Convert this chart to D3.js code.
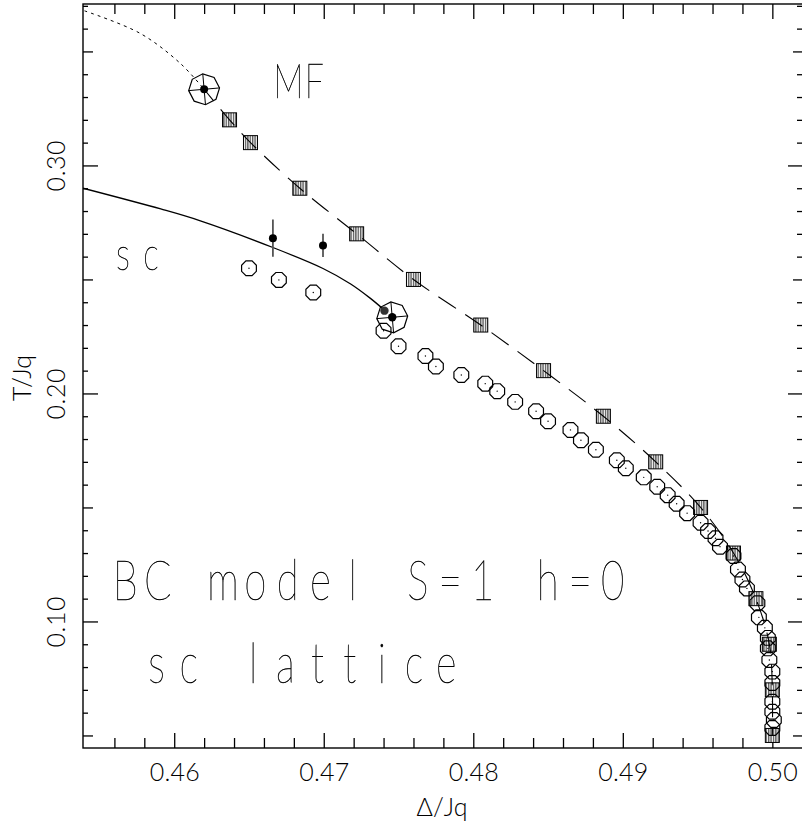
<!DOCTYPE html>
<html>
<head>
<meta charset="utf-8">
<script src="https://cdn.jsdelivr.net/npm/d3@7"></script>
<style>
  body { margin: 0; background: #fff; }
  svg { display: block; }
  text { font-family: Lato, "DejaVu Sans", sans-serif; fill: #000; font-variant-ligatures: none; }
</style>
</head>
<body>
<svg id="chart" width="802" height="830"></svg>
<script>
// ---- Mean-field transition line (hatched squares, dashed curve) ----
const mfDelta = [0.4637, 0.4651, 0.4684, 0.4722, 0.4760, 0.4805, 0.4847, 0.4887,
                 0.4922, 0.4952, 0.4974, 0.4989, 0.4998, 0.5000, 0.5000];
const mfTemp  = [0.32, 0.31, 0.29, 0.27, 0.25, 0.23, 0.21, 0.19,
                 0.17, 0.15, 0.13, 0.11, 0.09, 0.07, 0.05];
// MF tricritical point (large marker)
const mfTricritical = [0.4620, 0.3334];
// MF first-order continuation (dotted)
const mfExtDelta = [0.4540, 0.4577, 0.4604, 0.4620];
const mfExtTemp  = [0.3678, 0.3580, 0.3448, 0.3334];

// ---- sc lattice simulation points (open octagons) ----
const scDelta = [0.4650, 0.4670, 0.4693, 0.4740, 0.4750, 0.4768, 0.4775, 0.4792,
                 0.4808, 0.4816, 0.4828, 0.4842, 0.4850, 0.4865, 0.4872, 0.4882,
                 0.4896, 0.4902, 0.4914, 0.4923, 0.4930, 0.4936, 0.4943, 0.4952,
                 0.4957, 0.4962, 0.4965, 0.4974, 0.4977, 0.4980, 0.4983, 0.4990,
                 0.4991, 0.4995, 0.4997, 0.4997, 0.4998, 0.5000, 0.5000, 0.5000,
                 0.5000, 0.5001, 0.5000];
const scTemp  = [0.2549, 0.2498, 0.2443, 0.2275, 0.2207, 0.2164, 0.2118, 0.2081,
                 0.2043, 0.2010, 0.1963, 0.1922, 0.1878, 0.1840, 0.1795, 0.1753,
                 0.1707, 0.1672, 0.1632, 0.1591, 0.1554, 0.1516, 0.1475, 0.1433,
                 0.1397, 0.1365, 0.1328, 0.1287, 0.1228, 0.1184, 0.1145, 0.1080,
                 0.1018, 0.0972, 0.0928, 0.0882, 0.0831, 0.0780, 0.0730, 0.0648,
                 0.0604, 0.0568, 0.0533];

// sc first-order line (solid curve)
const scLineDelta = [0.4539, 0.4591, 0.4617, 0.4666, 0.46995, 0.4718, 0.4731, 0.4741];
const scLineTemp  = [0.2900, 0.2809, 0.2758, 0.2640, 0.2548, 0.2480, 0.2418, 0.2363];

// sc tricritical estimates (filled dots, the second one ringed)
const scTcpDelta = [0.47406, 0.47458];
const scTcpTemp  = [0.2363, 0.2334];

// estimates with error bars
const ebDelta = [0.4666, 0.46995];
const ebTemp  = [0.2681, 0.2649];
const ebErr   = [0.0082, 0.0051];

// axis ticks
const xTickIdx = d3.range(228, 251);          // x ticks every 0.002
const yTickIdx = d3.range(5, 38);             // y ticks every 0.01
const xLabels = [0.46, 0.47, 0.48, 0.49, 0.50];
const yLabels = [0.10, 0.20, 0.30];

// ---- layout ----
const frame = { left: 83, right: 803, top: 4, bottom: 748 };
const x = d3.scaleLinear().domain([0.4539, 0.50205]).range([frame.left, frame.right]);
const y = d3.scaleLinear().domain([0.0445, 0.3708]).range([frame.bottom, frame.top]);

const svg = d3.select('#chart');
const defs = svg.append('defs');
defs.append('clipPath').attr('id', 'plotClip')
  .append('rect')
  .attr('x', frame.left).attr('y', frame.top)
  .attr('width', frame.right - frame.left).attr('height', frame.bottom - frame.top);

const hatch = defs.append('pattern').attr('id', 'hatch')
  .attr('patternUnits', 'userSpaceOnUse').attr('width', 2.4).attr('height', 10);
hatch.append('rect').attr('width', 2.4).attr('height', 10).attr('fill', '#fff');
hatch.append('line').attr('x1', 0.7).attr('x2', 0.7).attr('y1', 0).attr('y2', 10)
  .attr('stroke', '#333').attr('stroke-width', 1.1);

// ---- frame and ticks ----
const axisStroke = g => {
  g.select('.domain').remove();
  g.selectAll('line').attr('stroke', '#000').attr('stroke-width', 1.3);
};
const xMinorVals = xTickIdx.filter(i => i % 5 !== 0).map(i => i * 0.002);
const xMajorVals = xTickIdx.filter(i => i % 5 === 0).map(i => i * 0.002);
const yMinorVals = yTickIdx.filter(i => i % 5 !== 0).map(i => i / 100);
const yMidVals   = yTickIdx.filter(i => i % 5 === 0 && i % 10 !== 0).map(i => i / 100);
const yMajorVals = yTickIdx.filter(i => i % 10 === 0).map(i => i / 100);

const axes = svg.append('g');
function xTicks(ax, pos, vals, len) {
  axes.append('g').attr('transform', `translate(0,${pos})`)
    .call(ax(x).tickValues(vals).tickSizeInner(-len).tickSizeOuter(0).tickFormat(''))
    .call(axisStroke);
}
function yTicks(ax, pos, vals, len) {
  axes.append('g').attr('transform', `translate(${pos},0)`)
    .call(ax(y).tickValues(vals).tickSizeInner(-len).tickSizeOuter(0).tickFormat(''))
    .call(axisStroke);
}
xTicks(d3.axisBottom, frame.bottom, xMinorVals, 10);
xTicks(d3.axisTop, frame.top, xMinorVals, 10);
xTicks(d3.axisTop, frame.top, xMajorVals, 15);
yTicks(d3.axisLeft, frame.left, yMinorVals, 5);
yTicks(d3.axisRight, frame.right, yMinorVals, 6);
yTicks(d3.axisLeft, frame.left, yMidVals, 10);
yTicks(d3.axisRight, frame.right, yMidVals, 10);
yTicks(d3.axisLeft, frame.left, yMajorVals, 15);
yTicks(d3.axisRight, frame.right, yMajorVals, 15);

// labelled bottom axis
const fmt = d3.format('.2f');
const bottomAxis = axes.append('g').attr('transform', `translate(0,${frame.bottom})`)
  .call(d3.axisBottom(x).tickValues(xMajorVals).tickSizeInner(-15).tickSizeOuter(0)
        .tickFormat(d => xLabels.some(v => Math.abs(v - d) < 1e-9) ? fmt(d) : ''))
  .call(axisStroke);
bottomAxis.selectAll('text')
  .attr('y', 33).attr('dy', null)
  .attr('font-size', 25).attr('font-weight', 300)
  .attr('textLength', 50).attr('lengthAdjust', 'spacing')
  .style('font-family', 'Lato, "DejaVu Sans", sans-serif').attr('fill', '#000');

// labelled left axis (rotated numbers)
const leftAxis = axes.append('g').attr('transform', `translate(${frame.left},0)`)
  .call(d3.axisLeft(y).tickValues(yLabels).tickSize(0).tickFormat(fmt));
leftAxis.select('.domain').remove();
leftAxis.selectAll('text')
  .attr('x', null).attr('dy', null)
  .attr('transform', 'translate(-18,0) rotate(-90)')
  .attr('text-anchor', 'middle')
  .attr('font-size', 25).attr('font-weight', 300)
  .attr('textLength', 51).attr('lengthAdjust', 'spacing')
  .style('font-family', 'Lato, "DejaVu Sans", sans-serif').attr('fill', '#000');

svg.append('rect')
  .attr('x', frame.left).attr('y', frame.top)
  .attr('width', frame.right - frame.left).attr('height', frame.bottom - frame.top)
  .attr('fill', 'none').attr('stroke', '#000').attr('stroke-width', 1.4);

// axis titles
svg.append('text')
  .attr('x', (frame.left + 801) / 2).attr('y', 816)
  .attr('text-anchor', 'middle').attr('font-size', 25).attr('font-weight', 300)
  .text('Δ/Jq');
svg.append('text')
  .attr('transform', 'translate(31,378) rotate(-90)')
  .attr('text-anchor', 'middle').attr('font-size', 25).attr('font-weight', 300)
  .text('T/Jq');

// ---- data layer ----
const plot = svg.append('g').attr('clip-path', 'url(#plotClip)');

// octagon path helper
function octagon(r, rotDeg) {
  const pts = d3.range(8).map(k => {
    const a = (rotDeg + k * 45) * Math.PI / 180;
    return [r * Math.cos(a), -r * Math.sin(a)];
  });
  return 'M' + pts.map(p => p.join(',')).join('L') + 'Z';
}

// MF squares
const mfPts = mfDelta.map((d, i) => [d, mfTemp[i]]);
plot.selectAll('rect.mf').data(mfPts).join('rect').attr('class', 'mf')
  .attr('x', d => x(d[0]) - 7).attr('y', d => y(d[1]) - 7)
  .attr('width', 14).attr('height', 14)
  .attr('fill', 'url(#hatch)').attr('stroke', '#000').attr('stroke-width', 1);

// MF dashed curve through the tricritical point and the squares
plot.append('path')
  .datum([mfTricritical].concat(mfPts))
  .attr('d', d3.line().x(d => x(d[0])).y(d => y(d[1])).curve(d3.curveCatmullRom))
  .attr('fill', 'none').attr('stroke', '#000').attr('stroke-width', 1.1)
  .attr('stroke-dasharray', '21,11').attr('stroke-dashoffset', 6);

// MF dotted continuation
plot.append('path')
  .datum(mfExtDelta.map((d, i) => [d, mfExtTemp[i]]))
  .attr('d', d3.line().x(d => x(d[0])).y(d => y(d[1])).curve(d3.curveCatmullRom))
  .attr('fill', 'none').attr('stroke', '#000').attr('stroke-width', 1)
  .attr('stroke-dasharray', '3,4');

// sc solid curve
plot.append('path')
  .datum(scLineDelta.map((d, i) => [d, scLineTemp[i]]))
  .attr('d', d3.line().x(d => x(d[0])).y(d => y(d[1])).curve(d3.curveCatmullRom))
  .attr('fill', 'none').attr('stroke', '#000').attr('stroke-width', 1.3);

// sc simulation points
const scPts = scDelta.map((d, i) => [d, scTemp[i]]);
const scG = plot.selectAll('g.sc').data(scPts).join('g').attr('class', 'sc')
  .attr('transform', d => `translate(${x(d[0])},${y(d[1])})`);
scG.append('path').attr('d', octagon(8, 22.5))
  .attr('fill', 'none').attr('stroke', '#000').attr('stroke-width', 1.2);
scG.append('circle').attr('r', 0.7).attr('fill', '#000');

// error bars and their dots
const ebPts = ebDelta.map((d, i) => [d, ebTemp[i], ebErr[i]]);
plot.selectAll('line.eb').data(ebPts).join('line').attr('class', 'eb')
  .attr('x1', d => x(d[0])).attr('x2', d => x(d[0]))
  .attr('y1', d => y(d[1] + d[2])).attr('y2', d => y(d[1] - d[2]))
  .attr('stroke', '#555').attr('stroke-width', 1.8);
plot.selectAll('circle.eb').data(ebPts).join('circle').attr('class', 'eb')
  .attr('cx', d => x(d[0])).attr('cy', d => y(d[1])).attr('r', 4)
  .attr('fill', '#000');

// large ringed markers (tricritical points)
function bigMarker(cx, cy) {
  const g = plot.append('g').attr('transform', `translate(${cx},${cy})`);
  g.append('path').attr('d', octagon(15.5, 5))
    .attr('fill', 'none').attr('stroke', '#000').attr('stroke-width', 1.2);
  [0, 2, 4, 6].forEach(k => {
    const a = (5 + k * 45) * Math.PI / 180;
    g.append('line').attr('x1', 0).attr('y1', 0)
      .attr('x2', 15.5 * Math.cos(a)).attr('y2', -15.5 * Math.sin(a))
      .attr('stroke', '#000').attr('stroke-width', 1);
  });
}
bigMarker(x(mfTricritical[0]), y(mfTricritical[1]));
bigMarker(x(scTcpDelta[1]), y(scTcpTemp[1]));
plot.append('circle').attr('cx', x(mfTricritical[0])).attr('cy', y(mfTricritical[1]))
  .attr('r', 4).attr('fill', '#000');
plot.selectAll('circle.tcp').data(scTcpDelta.map((d, i) => [d, scTcpTemp[i]]))
  .join('circle').attr('class', 'tcp')
  .attr('cx', d => x(d[0])).attr('cy', d => y(d[1])).attr('r', 4.2)
  .attr('fill', (d, i) => i === 0 ? '#333' : '#000');

// ---- annotations: fixed-pitch lettering, narrow glyphs ----
// drawn inside a translucent group so the glyphs get grayscale antialiasing
const notes = svg.append('g').attr('opacity', 0.995);
function note(str, firstCenter, pitch, baseline, size) {
  const sx = 0.72;
  const xs = Array.from(str).map((c, i) => ((firstCenter + i * pitch) / sx).toFixed(2));
  notes.append('g').attr('transform', `translate(0,${baseline}) scale(${sx},1)`)
    .append('text')
    .attr('x', xs.join(' ')).attr('y', 0)
    .attr('text-anchor', 'middle')
    .attr('font-size', size).attr('font-weight', 200)
    .attr('stroke', '#000').attr('stroke-width', 0.5)
    .text(str);
}
note('MF', 288.3, 26, 97.5, 47);
note('sc', 123, 28, 270, 46);
note('BC model S=1 h=0', 125.3, 32.5, 600, 56);
note('sc  lattice', 156.5, 32.2, 683, 55);
</script>
</body>
</html>
